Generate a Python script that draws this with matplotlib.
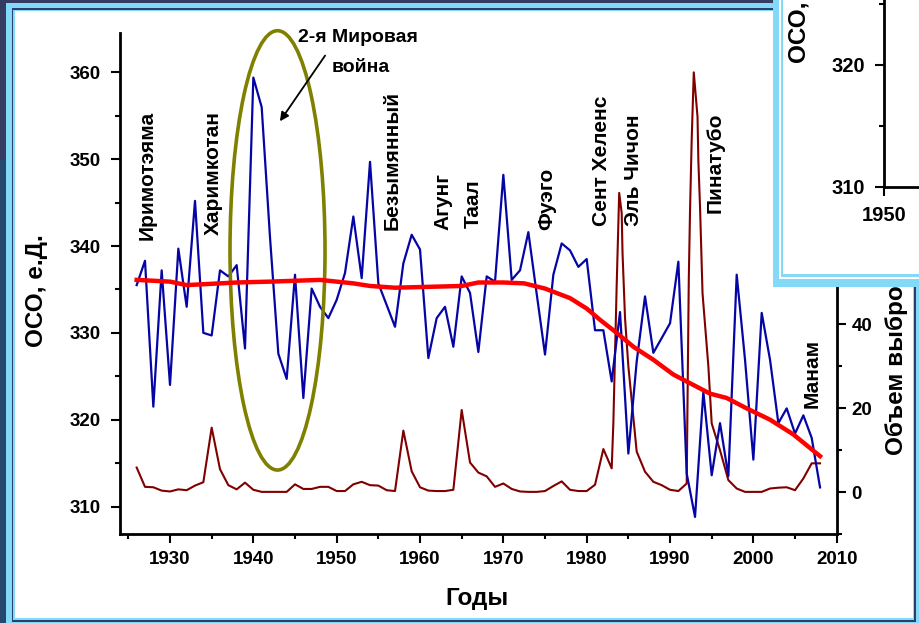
import numpy as np
import matplotlib.pyplot as plt
from matplotlib.patches import Ellipse, Rectangle
from matplotlib.ticker import MultipleLocator, FixedLocator

# ОСО по годам (левая ось)
years = np.arange(1926, 2009)
oco = [335.5, 338.3, 321.5, 337.2, 324.0, 339.7, 333.0, 345.2, 330.0, 329.7,
       337.2, 336.5, 337.8, 328.2, 359.4, 356.0, 341.0, 327.6, 324.7, 336.7,
       322.5, 335.1, 333.0, 331.7, 333.8, 336.9, 343.4, 336.3, 349.7, 335.7,
       333.2, 330.7, 338.0, 341.3, 339.6, 327.1, 331.7, 333.0, 328.4, 336.5,
       334.6, 327.8, 336.5, 335.9, 348.2, 336.1, 337.2, 341.6, 334.5, 327.5,
       336.7, 340.3, 339.5, 337.6, 338.5, 330.3, 330.3, 324.4, 332.4, 316.1,
       326.7, 334.2, 327.7, 329.4, 331.1, 338.2, 313.8, 308.8, 323.2, 313.6,
       319.6, 313.5, 336.7, 326.9, 315.4, 332.3, 326.9, 319.6, 321.3, 318.4,
       320.5, 317.9, 312.2]

# сглаженный тренд ОСО
trend_years = [1926, 1930, 1932, 1934, 1938, 1942, 1948, 1952, 1954, 1957,
               1961, 1965, 1967, 1970, 1972.5, 1975, 1978, 1980, 1981.6, 1983.6,
               1985.6, 1988, 1990.4, 1992.4, 1994.8, 1996.8, 1999.2, 2002, 2004.8, 2008]
trend_oco = [336.1, 335.9, 335.5, 335.6, 335.8, 335.9, 336.1, 335.7, 335.4, 335.2,
             335.3, 335.4, 335.8, 335.8, 335.7, 335.1, 334.0, 332.8, 331.5, 330.0,
             328.4, 326.9, 325.2, 324.2, 323.0, 322.5, 321.3, 320.0, 318.3, 315.8]

# объем выбросов (правая ось)
eruption_years = list(range(1926, 1984)) + [1983.2, 1983.6, 1983.9, 1984.2, 1984.3, 1984.6] \
    + list(range(1985, 1993)) + [1992.25, 1992.4, 1992.6, 1992.85, 1993.3, 1993.4, 1993.6, 1993.9, 1994.6] \
    + list(range(1995, 2009))
eruption_vol = [5.9, 1.3, 1.2, 0.4, 0.2, 0.7, 0.5, 1.6, 2.4, 15.4,
                5.5, 1.7, 0.7, 2.3, 0.6, 0.1, 0.1, 0.1, 0.1, 1.9,
                0.8, 0.8, 1.3, 1.3, 0.3, 0.3, 1.9, 2.5, 1.7, 1.6,
                0.5, 0.3, 14.7, 5.0, 1.2, 0.4, 0.3, 0.3, 0.6, 19.6,
                7.1, 4.7, 3.8, 1.3, 2.1, 0.8, 0.2, 0.1, 0.1, 0.3,
                1.5, 2.6, 0.6, 0.3, 0.3, 1.8, 10.3, 5.7,
                16.5, 49.4, 71.3, 66.5, 57.0, 41.5,
                30.0, 9.7, 4.9, 2.5, 1.7, 0.6, 0.3, 2.1,
                50.5, 67.0, 84.0, 100.0, 89.4, 79.0, 68.0, 47.4, 30.0,
                16.4, 10.0, 2.9, 0.9, 0.1, 0.1, 0.1, 0.9, 1.1, 1.2, 0.5, 3.3, 6.9, 6.9]

volcanoes = ['Иримотэяма', 'Харимкотан', 'Безымянный', 'Агунг', 'Таал',
             'Фуэго', 'Сент Хеленс', 'Эль Чичон', 'Пинатубо', 'Манам']
# где стоят подписи вулканов (год, нижний край подписи по левой оси)
volcano_pos = [(1927.2, 340.7), (1935.2, 341.3), (1956.6, 341.8), (1962.8, 341.9),
               (1966.4, 342.1), (1975.2, 341.9), (1981.8, 342.3), (1985.6, 342.3),
               (1995.4, 343.8), (2007.0, 321.3)]

plt.rcParams['font.family'] = ['Liberation Sans', 'DejaVu Sans']
plt.rcParams['font.weight'] = 'bold'

W, H = 920, 623
LB = '#82d9f8'
fig = plt.figure(figsize=(W / 100, H / 100), dpi=100, facecolor='#26476e')


def fx(x):
    return x / W


def fy(y):
    return 1 - y / H


def box(x0, y0, x1, y1, color, z):
    fig.add_artist(Rectangle((fx(x0), fy(y1)), (x1 - x0) / W, (y1 - y0) / H,
                             transform=fig.transFigure, facecolor=color,
                             edgecolor='none', zorder=z))


# рамка слайда
box(0, 0, 920, 160, '#343c62', -20)
box(6, 3, 925, 630, LB, -19)
box(12, 8, 916, 622, '#2b4068', -18)
box(13.5, 9.5, 914.5, 620, LB, -17)
box(15, 11, 913, 617.5, 'white', -16)

# основной график
ax = fig.add_axes([fx(120), fy(534.3), (836.7 - 120) / W, (534.3 - 33.3) / H])
ax2 = ax.twinx()
ax.set_zorder(1)
ax2.set_zorder(0)
ax.patch.set_visible(False)
ax2.patch.set_visible(False)

ax2.plot(eruption_years, eruption_vol, color='#800000', lw=1.5)
ax.plot(years, oco, color='#0505a6', lw=1.6, zorder=2)
ax.add_patch(Ellipse((1942.9, 339.5), 11.4, 50.6, fill=False, edgecolor='#808000',
                     lw=2.6, clip_on=False, zorder=2.5))
ax.plot(trend_years, trend_oco, color='#ff0000', lw=3.2, zorder=3)

ax.set_xlim(1924, 2010)
ax.set_ylim(306.8, 364.5)
ax2.set_ylim(-10, 109.3)

ax.xaxis.set_major_locator(MultipleLocator(10))
ax.xaxis.set_minor_locator(MultipleLocator(5))
ax.yaxis.set_major_locator(MultipleLocator(10))
ax.yaxis.set_minor_locator(MultipleLocator(5))
# верх правой шкалы закрыт врезкой
ax2.yaxis.set_major_locator(FixedLocator([0, 20, 40]))
ax2.yaxis.set_minor_locator(FixedLocator([-10, 10, 30, 50]))

for s in ['top', 'right']:
    ax.spines[s].set_visible(False)
for s in ['top', 'left', 'bottom']:
    ax2.spines[s].set_visible(False)
ax.spines['left'].set_linewidth(2)
ax.spines['bottom'].set_linewidth(2)
ax2.spines['right'].set_linewidth(2)

ax.tick_params(which='both', direction='out', width=1.5, labelsize=13.5)
ax.tick_params(which='major', length=6.5)
ax.tick_params(which='minor', length=3.6)
ax.tick_params(axis='y', pad=7)
ax.tick_params(axis='x', pad=5.5)
ax2.tick_params(which='both', direction='out', width=1.5, labelsize=13.5, pad=4)
ax2.tick_params(which='major', length=6.5)
ax2.tick_params(which='minor', length=3.6)

for name, (x, y) in zip(volcanoes, volcano_pos):
    ax.text(x, y, name, rotation=90, ha='center', va='bottom', fontsize=15)

ax.annotate('', xy=(1943.0, 354.1), xytext=(1948.8, 362.2),
            arrowprops=dict(arrowstyle='-|>', color='black', lw=1.3, mutation_scale=13),
            annotation_clip=False)
fig.text(fx(357.5), fy(38), '2-я Мировая', ha='center', va='center', fontsize=14)
fig.text(fx(361), fy(67.5), 'война', ha='center', va='center', fontsize=14)

fig.text(fx(477), fy(598.5), 'Годы', ha='center', va='center', fontsize=17.5)
fig.text(fx(37), fy(291), 'ОСО, е.Д.', rotation=90, ha='center', va='center', fontsize=17.5)
# подпись правой оси уходит под врезку
fig.text(fx(897), fy(455), 'Объем выбросов', rotation=90, ha='center', va='bottom',
         fontsize=17.5, zorder=3)

# врезка поверх правого верхнего угла
box(773, -10, 930, 287, LB, 5)
box(779, -10, 930, 279, 'white', 5.1)
box(781, -10, 930, 276.5, LB, 5.2)
box(783, -10, 930, 273.5, 'white', 5.3)

axi = fig.add_axes([fx(884.3), fy(186.7), 0.2, 0.3], zorder=6)
axi.patch.set_visible(False)
axi.set_xlim(1950, 1965)
axi.set_ylim(310, 310 + 0.3 * H / 12.17)
axi.xaxis.set_major_locator(MultipleLocator(10))
axi.yaxis.set_major_locator(MultipleLocator(10))
axi.yaxis.set_minor_locator(MultipleLocator(5))
for s in ['top', 'right']:
    axi.spines[s].set_visible(False)
axi.spines['left'].set_linewidth(2)
axi.spines['bottom'].set_linewidth(2)
axi.tick_params(which='both', direction='out', width=1.5, labelsize=14.5)
axi.tick_params(which='major', length=6.7, pad=7)
axi.tick_params(which='minor', length=3.6)
fig.text(fx(800), fy(63), 'ОСО, е.Д.', rotation=90, ha='center', va='bottom',
         fontsize=17.5, zorder=7)

fig.savefig('out.png', dpi=100, facecolor=fig.get_facecolor())
